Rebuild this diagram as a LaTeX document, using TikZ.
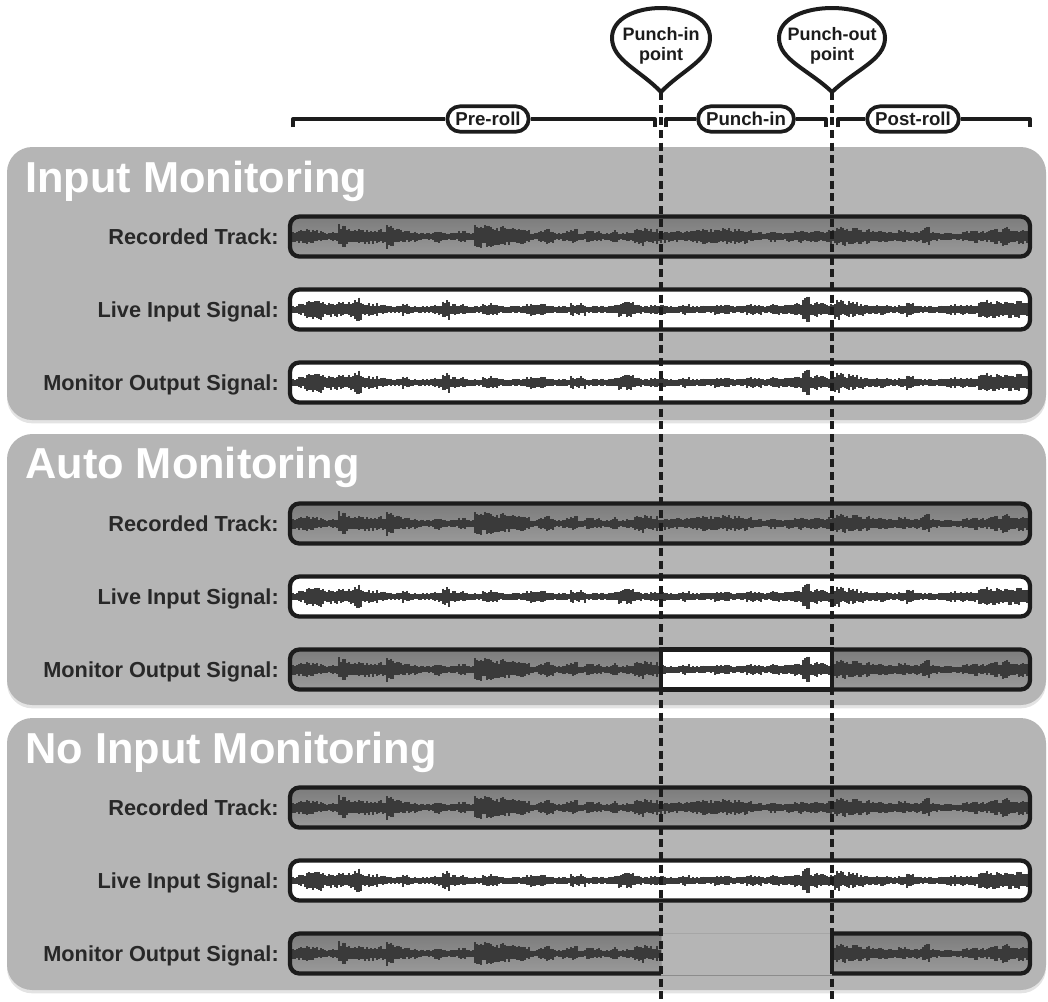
\documentclass[tikz,border=0pt]{standalone}
\usepackage{fontspec}
\setmainfont{Liberation Sans}
\usetikzlibrary{shapes.misc,shadows}

\definecolor{panelgray}{RGB}{181,181,181}
\definecolor{recdark}{RGB}{124,124,124}
\definecolor{reclight}{RGB}{154,154,154}
\definecolor{wavecol}{RGB}{58,58,58}
\definecolor{inkcol}{RGB}{28,28,28}
\definecolor{labelcol}{RGB}{40,40,40}

% amplitude envelopes (half height in px), one value every 8px from x=291
\def\reclist{4,5,5,4,2.5,3,9,5,5,5,
  5,5,10,5,4,3,2,2,4,2,
  2,4,2,11,8,7,7,6,6,5,
  2,4,5,2,3,5,2,4,3,2,
  4,2,3,5,6,5,4,3,3,3,
  4,6,5,5,6,5,5,4,3,2,
  3,2,3,4,3,4,3,5,7,6,
  6,5,5,4,3,3,4,3,3,7,
  3,2,2,2,3,5,3,4,5,7,
  5,5,5}
\def\livelist{2,4,6,8,5,5,5,5,9,4,
  4,3,2,2,4,2,2,2,3,8,
  3,3,2,2,4,4,2,2,2,3,
  4,4,2,2,2,4,4,2,2,2,
  3,5,5,3,2,3,3,2,2,3,
  2,2,2,3,3,2,2,3,3,2,
  3,3,3,4,9,5,4,4,7,6,
  5,4,3,3,3,2,3,5,2,2,
  2,2,3,4,3,3,6,7,6,6,
  6,6,6}

\tikzset{
  panel/.style={fill=panelgray, rounded corners=19pt,
    drop shadow={shadow xshift=0pt, shadow yshift=-2.5pt, opacity=0.22}},
  recfill/.style={top color=recdark, bottom color=reclight},
  livefill/.style={fill=white},
  trackline/.style={draw=inkcol, line width=3.2pt, rounded corners=7pt},
  boxline/.style={draw=inkcol, line width=3.2pt},
  wavestroke/.style={draw=wavecol, line width=1.5pt},
  paneltitle/.style={anchor=base west, inner sep=0pt, text=white,
    font=\bfseries\fontsize{32.5}{36}\selectfont},
  tracklabel/.style={anchor=base east, inner sep=0pt, text=labelcol,
    font=\bfseries\fontsize{16.3}{18}\selectfont},
  pill/.style={rounded rectangle, draw=inkcol, fill=white, line width=2.8pt,
    inner xsep=4.5pt, inner ysep=0pt, minimum height=19pt, text=inkcol,
    font=\bfseries\fontsize{14}{15}\selectfont},
  bracketline/.style={draw=inkcol, line width=3pt, line join=round},
  pinline/.style={draw=inkcol, fill=white, line width=3pt, line join=round},
  pintext/.style={align=center, inner sep=0pt, text=inkcol,
    font=\bfseries\fontsize{13.5}{15}\selectfont},
  dashline/.style={draw=inkcol, line width=2.6pt, dash pattern=on 6pt off 3.5pt},
}

% waveform: center y, random seed, amplitude list
\newcommand\drawwave[3]{%
  \pgfmathsetseed{#2}%
  \foreach \a [count=\i from 0] in #3 {%
    \foreach \k in {0,2,4,6} {%
      \pgfmathsetmacro\xx{291+8*\i+\k}%
      \pgfmathsetmacro\hu{\a*1.3*(0.45+0.55*rnd)+1.3}%
      \pgfmathsetmacro\hd{\a*1.3*(0.45+0.55*rnd)+1.3}%
      \draw[wavestroke] (\xx,#1-\hu) -- (\xx,#1+\hd);
    }%
  }%
}

% track box: top y, fill style, seed, amplitude list
\newcommand\trackbox[4]{%
  \begin{scope}
    \clip[rounded corners=7pt] (290,#1+1.5) rectangle (1030,#1+41.5);
    \fill[#2] (290,#1+1.5) rectangle (1030,#1+41.5);
    \drawwave{#1+21.5}{#3}{#4}
  \end{scope}
  \draw[trackline] (290,#1+1.5) rectangle (1030,#1+41.5);
}

% teardrop marker: tip x, half width
\newcommand\pinshape[2]{%
  \draw[pinline] (#1,92) .. controls (#1-0.43*#2,70) and (#1-#2,60) .. (#1-#2,38)
    .. controls (#1-#2,18) and (#1-0.5*#2,8) .. (#1,8)
    .. controls (#1+0.5*#2,8) and (#1+#2,18) .. (#1+#2,38)
    .. controls (#1+#2,60) and (#1+0.43*#2,70) .. (#1,92) -- cycle;
}

\begin{document}
\begin{tikzpicture}[x=0.75pt, y=-0.75pt]
\useasboundingbox (0,0) rectangle (1048,1001);

% ---- panels ----
\path[panel] (7,147) rectangle (1046,420);
\path[panel] (7,434) rectangle (1046,705);
\path[panel] (7,718) rectangle (1046,990);

\node[paneltitle] (t1) at (25,192) {Input Monitoring};
\node[paneltitle] (t2) at (25,478) {Auto Monitoring};
\node[paneltitle] (t3) at (25,763) {No Input Monitoring};

% ---- Input Monitoring ----
\node[tracklabel] (l11) at (279,244.5) {Recorded Track:};
\node[tracklabel] (l12) at (279,317.5) {Live Input Signal:};
\node[tracklabel] (l13) at (279,390.5) {Monitor Output Signal:};
\trackbox{215}{recfill}{11}{\reclist}
\trackbox{288}{livefill}{23}{\livelist}
\trackbox{361}{livefill}{23}{\livelist}

% ---- Auto Monitoring ----
\node[tracklabel] (l21) at (279,531.5) {Recorded Track:};
\node[tracklabel] (l22) at (279,604.5) {Live Input Signal:};
\node[tracklabel] (l23) at (279,677.5) {Monitor Output Signal:};
\trackbox{502}{recfill}{11}{\reclist}
\trackbox{575}{livefill}{23}{\livelist}
\trackbox{648}{recfill}{11}{\reclist}
\begin{scope}
  \clip (661,649.5) rectangle (832,689.5);
  \fill[white] (661,649.5) rectangle (832,689.5);
  \drawwave{669.5}{23}{\livelist}
\end{scope}
\draw[boxline] (661,649.5) rectangle (832,689.5);

% ---- No Input Monitoring ----
\node[tracklabel] (l31) at (279,815.5) {Recorded Track:};
\node[tracklabel] (l32) at (279,888.5) {Live Input Signal:};
\node[tracklabel] (l33) at (279,961.5) {Monitor Output Signal:};
\trackbox{786}{recfill}{11}{\reclist}
\trackbox{859}{livefill}{23}{\livelist}
\begin{scope}
  \clip (0,0) rectangle (661,1001);
  \trackbox{932}{recfill}{11}{\reclist}
\end{scope}
\begin{scope}
  \clip (832,0) rectangle (1048,1001);
  \trackbox{932}{recfill}{11}{\reclist}
\end{scope}
\draw[boxline] (832,933.5) -- (832,973.5);
\draw[black!35, line width=0.5pt] (661,933.5) -- (832,933.5);
\draw[black!45, line width=0.7pt] (661,975) -- (832,975);

% ---- range brackets ----
\node[pill] (pre)  at (488,119) {Pre-roll};
\node[pill] (pin)  at (746,119) {Punch-in};
\node[pill] (post) at (913,119) {Post-roll};
\coordinate (preA) at (293,127);  \coordinate (preB) at (655,127);
\coordinate (pinA) at (666,127);  \coordinate (pinB) at (826,127);
\coordinate (postA) at (838,127); \coordinate (postB) at (1030,127);
\draw[bracketline] (preA) |- (pre.west);
\draw[bracketline] (pre.east) -| (preB);
\draw[bracketline] (pinA) |- (pin.west);
\draw[bracketline] (pin.east) -| (pinB);
\draw[bracketline] (postA) |- (post.west);
\draw[bracketline] (post.east) -| (postB);

% ---- punch markers ----
\pinshape{661}{49}
\pinshape{832}{53}
\node[pintext] (mkin)  at (661,46) {Punch-in\\point};
\node[pintext] (mkout) at (832,46) {Punch-out\\point};
\coordinate (tipIn) at (661,92);   \coordinate (endIn) at (661,1001);
\coordinate (tipOut) at (832,92);  \coordinate (endOut) at (832,1001);
\draw[dashline] (tipIn) -- (endIn);
\draw[dashline] (tipOut) -- (endOut);
\end{tikzpicture}
\end{document}
